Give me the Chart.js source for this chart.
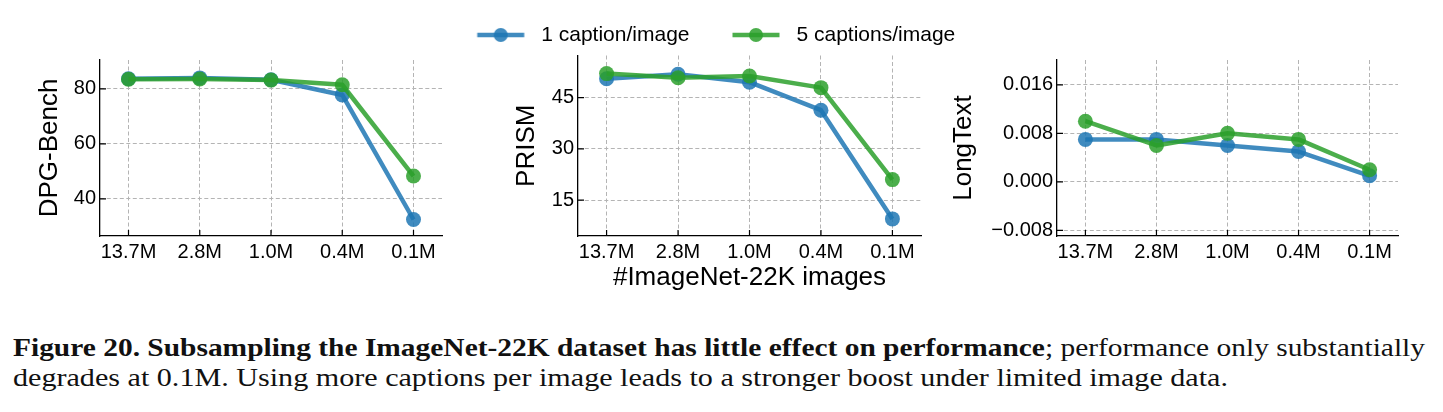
<!DOCTYPE html>
<html>
<head>
<meta charset="utf-8">
<script src="https://cdn.jsdelivr.net/npm/chart.js@4.4.1/dist/chart.umd.min.js"></script>
<style>
  html, body { margin: 0; padding: 0; background: #fff; }
  body { width: 1443px; height: 412px; position: relative; overflow: hidden; }
  canvas { position: absolute; top: 0; }
  #c1 { left: 0; }
  #c2 { left: 427px; }
  #c3 { left: 940px; }
  .cap-line {
    position: absolute; left: 13px; white-space: nowrap;
    font-family: "Liberation Serif", "DejaVu Serif", serif;
    font-size: 26px; line-height: 30px; color: #111;
    transform-origin: left top;
  }
  #cap1 { top: 333px; }
  #cap2 { top: 363px; }
</style>
</head>
<body>
<canvas id="c1" width="470" height="300"></canvas>
<canvas id="c2" width="550" height="300"></canvas>
<canvas id="c3" width="503" height="300"></canvas>
<div class="cap-line" id="cap1" data-w="1412"><b>Figure 20. Subsampling the ImageNet-22K dataset has little effect on performance</b>; performance only substantially</div>
<div class="cap-line" id="cap2" data-w="1215">degrades at 0.1M. Using more captions per image leads to a stronger boost under limited image data.</div>
<script>
// data
const CATEGORIES = ['13.7M', '2.8M', '1.0M', '0.4M', '0.1M'];
const SERIES_LABELS = ['1 caption/image', '5 captions/image'];

const DPG_ONE = [83.7, 84.0, 83.3, 77.8, 32.5];
const DPG_FIVE = [83.5, 83.6, 83.2, 81.5, 48.3];
const DPG_TICKS = [40, 60, 80];

const PRISM_ONE = [50.5, 51.8, 49.5, 41.3, 9.5];
const PRISM_FIVE = [52.0, 50.8, 51.3, 47.9, 21.0];
const PRISM_TICKS = [15, 30, 45];

const LONG_ONE = [0.007, 0.007, 0.006, 0.005, 0.001];
const LONG_FIVE = [0.010, 0.006, 0.008, 0.007, 0.002];
const LONG_TICKS = [-0.008, 0, 0.008, 0.016];

const BLUE = 'rgba(31, 119, 180, 0.85)';
const GREEN = 'rgba(44, 160, 44, 0.85)';
const GRID = '#b4b4b4';
const DASH = [4, 2.5];

Chart.defaults.font.family = '"Liberation Sans", Arial, sans-serif';
Chart.defaults.color = '#000';

/**
 * Small matplotlib-style ticks pointing into the plot area
 */
const innerTicks = {
  id: 'innerTicks',
  beforeDatasetsDraw(chart) {
    const { ctx, chartArea, scales } = chart;
    ctx.save();
    ctx.strokeStyle = '#000';
    ctx.lineWidth = 1.2;
    ctx.beginPath();
    scales.x.ticks.forEach((t) => {
      const px = scales.x.getPixelForValue(t.value);
      ctx.moveTo(px, chartArea.bottom);
      ctx.lineTo(px, chartArea.bottom - 6);
    });
    scales.y.ticks.forEach((t) => {
      const py = scales.y.getPixelForValue(t.value);
      ctx.moveTo(chartArea.left, py);
      ctx.lineTo(chartArea.left + 6, py);
    });
    ctx.stroke();
    ctx.restore();
  },
};

/**
 * Legend sample: short line with a dot in the middle
 */
function legendSample(color) {
  const c = document.createElement('canvas');
  c.width = 82;
  c.height = 20;
  const g = c.getContext('2d');
  g.strokeStyle = color;
  g.fillStyle = color;
  g.lineWidth = 4.5;
  g.beginPath();
  g.moveTo(28.5, 10);
  g.lineTo(75.5, 10);
  g.stroke();
  g.beginPath();
  g.arc(52, 10, 7, 0, Math.PI * 2);
  g.fill();
  return c;
}

function toPoints(values) {
  return values.map((v, i) => ({ x: i, y: v }));
}

function series(label, values, color, order) {
  return {
    label,
    data: toPoints(values),
    borderColor: color,
    backgroundColor: color,
    borderWidth: 4.5,
    borderJoinStyle: 'round',
    pointRadius: 7.5,
    pointHoverRadius: 7.5,
    pointBorderWidth: 0,
    pointBackgroundColor: color,
    order,
  };
}

function makePanel(id, cfg) {
  const ctx = document.getElementById(id).getContext('2d');
  const scales = {
    x: {
      type: 'linear',
      min: -0.4,
      max: 4.4,
      afterBuildTicks: (s) => { s.ticks = CATEGORIES.map((_, i) => ({ value: i })); },
      afterFit: (s) => { s.height = 64; },
      ticks: {
        padding: 4,
        font: { size: 20 },
        color: '#000',
        maxRotation: 0,
        callback: (v) => CATEGORIES[v],
      },
      grid: { color: GRID, lineWidth: 1, drawTicks: false },
      border: { display: true, color: '#000', width: 1.3, dash: DASH },
      title: cfg.xTitle ? {
        display: true,
        text: cfg.xTitle,
        font: { size: 26 },
        color: '#000',
        padding: 6.4,
      } : { display: false },
    },
    y: {
      type: 'linear',
      min: cfg.yMin,
      max: cfg.yMax,
      afterBuildTicks: (s) => { s.ticks = cfg.ticks.map((v) => ({ value: v })); },
      afterFit: (s) => { s.width = cfg.yWidth; },
      ticks: {
        padding: 4,
        font: { size: 20 },
        color: '#000',
        callback: cfg.format,
      },
      grid: { color: GRID, lineWidth: 1, drawTicks: false },
      border: { display: true, color: '#000', width: 1.3, dash: DASH },
      title: {
        display: true,
        text: cfg.yTitle,
        font: { size: 26 },
        color: '#000',
        padding: cfg.yTitlePad,
      },
    },
  };
  // empty box on the right so the legend can be wider than the plot
  if (cfg.rightGap) {
    scales.gap = {
      type: 'linear',
      position: 'right',
      display: true,
      grid: { display: false },
      ticks: { display: false },
      border: { display: false },
      afterFit: (s) => { s.width = cfg.rightGap; },
    };
  }
  return new Chart(ctx, {
    type: 'line',
    data: {
      datasets: [
        series(SERIES_LABELS[0], cfg.one, BLUE, 1),
        series(SERIES_LABELS[1], cfg.five, GREEN, 0),
      ],
    },
    options: {
      responsive: false,
      animation: false,
      devicePixelRatio: 1,
      layout: { padding: cfg.padding },
      plugins: {
        tooltip: { enabled: false },
        legend: cfg.legend ? {
          display: true,
          position: 'top',
          labels: {
            usePointStyle: true,
            pointStyleWidth: 82,
            padding: 14.5,
            font: { size: 21 },
            color: '#000',
            generateLabels: () => [
              { text: SERIES_LABELS[0], pointStyle: legendSample(BLUE), lineWidth: 0, strokeStyle: 'transparent', fillStyle: BLUE, datasetIndex: 0, hidden: false },
              { text: SERIES_LABELS[1], pointStyle: legendSample(GREEN), lineWidth: 0, strokeStyle: 'transparent', fillStyle: GREEN, datasetIndex: 1, hidden: false },
            ],
          },
        } : { display: false },
      },
      scales,
    },
    plugins: [innerTicks],
  });
}

const fmtInt = (v) => String(v);
const fmtLong = (v) => (v < 0 ? '\u2212' + Math.abs(v).toFixed(3) : v.toFixed(3));

makePanel('c1', {
  one: DPG_ONE, five: DPG_FIVE, ticks: DPG_TICKS,
  yMin: 26.5, yMax: 90.5, yTitle: 'DPG-Bench', yTitlePad: 34.4, yWidth: 100,
  padding: { top: 60, right: 28, left: 0, bottom: 0 }, format: fmtInt,
});
makePanel('c2', {
  one: PRISM_ONE, five: PRISM_FIVE, ticks: PRISM_TICKS,
  yMin: 4.5, yMax: 57.3, yTitle: 'PRISM', yTitlePad: 84.4, yWidth: 151,
  padding: { top: 10, right: 0, left: 0, bottom: 0 }, rightGap: 56, format: fmtInt,
  legend: true, xTitle: '#ImageNet-22K images',
});
makePanel('c3', {
  one: LONG_ONE, five: LONG_FIVE, ticks: LONG_TICKS,
  yMin: -0.00894, yMax: 0.0201, yTitle: 'LongText', yTitlePad: 8.4, yWidth: 117,
  padding: { top: 60, right: 45, left: 0, bottom: 0 }, format: fmtLong,
});

// squeeze / stretch caption lines to the width they have in the figure
document.querySelectorAll('.cap-line').forEach((el) => {
  const target = Number(el.dataset.w);
  const w = el.getBoundingClientRect().width;
  el.style.transform = `scaleX(${target / w})`;
});
</script>
</body>
</html>
